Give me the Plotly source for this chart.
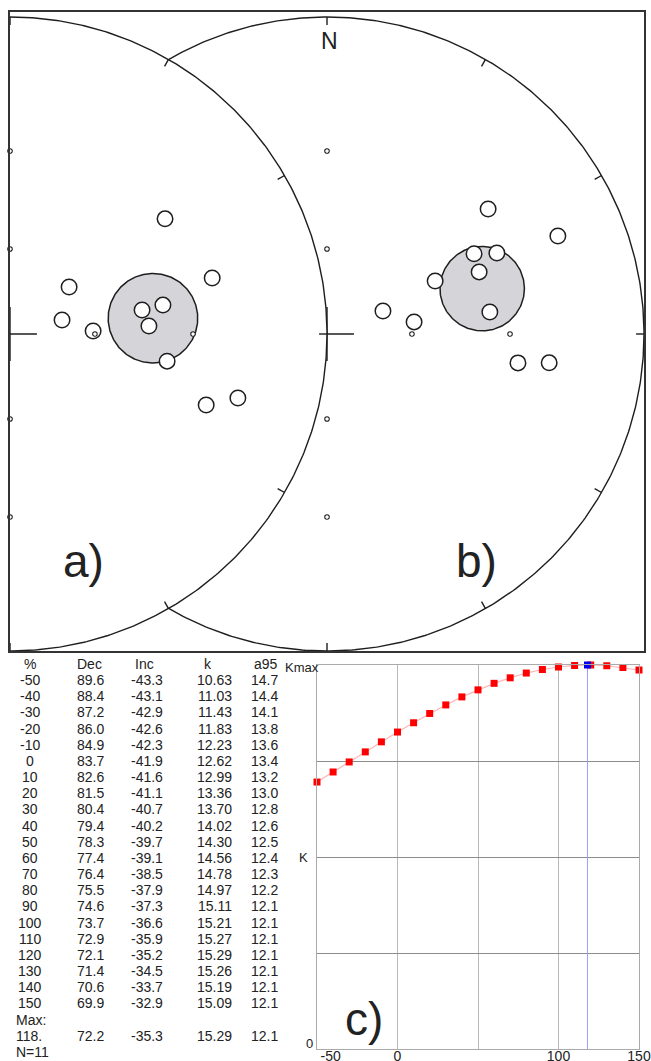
import numpy as np
import plotly.graph_objects as go

# ---------------- data ----------------
pct = [-50, -40, -30, -20, -10, 0, 10, 20, 30, 40, 50, 60, 70, 80, 90, 100, 110, 120, 130, 140, 150]
dec = [89.6, 88.4, 87.2, 86.0, 84.9, 83.7, 82.6, 81.5, 80.4, 79.4, 78.3, 77.4, 76.4, 75.5, 74.6,
       73.7, 72.9, 72.1, 71.4, 70.6, 69.9]
inc = [-43.3, -43.1, -42.9, -42.6, -42.3, -41.9, -41.6, -41.1, -40.7, -40.2, -39.7, -39.1, -38.5,
       -37.9, -37.3, -36.6, -35.9, -35.2, -34.5, -33.7, -32.9]
kval = [10.63, 11.03, 11.43, 11.83, 12.23, 12.62, 12.99, 13.36, 13.70, 14.02, 14.30, 14.56, 14.78,
        14.97, 15.11, 15.21, 15.27, 15.29, 15.26, 15.19, 15.09]
a95 = [14.7, 14.4, 14.1, 13.8, 13.6, 13.4, 13.2, 13.0, 12.8, 12.6, 12.5, 12.4, 12.3, 12.2, 12.1,
       12.1, 12.1, 12.1, 12.1, 12.1, 12.1]
max_pct, max_dec, max_inc, max_k, max_a95 = 118, 72.2, -35.3, 15.29, 12.1
n_sites = 11

# site directions (upper hemisphere, open symbols) read from the nets
a_dec = [53.4, 51.5, 74.9, 87.9, 79.7, 79.3, 86.7, 99.8, 74.5, 109.9, 105.7]
a_inc = [-27.3, -63.2, -70.7, -60.6, -44.1, -37.7, -42.6, -36.6, -23.0, -23.3, -16.5]
b_dec = [52.2, 67.0, 61.4, 64.5, 67.8, 63.9, 67.7, 82.1, 82.3, 98.6, 97.4]
b_inc = [-24.5, -13.3, -34.3, -28.6, -35.2, -48.4, -68.4, -59.0, -35.2, -27.3, -19.5]
panel_pct = [0, 100]          # step whose mean / a95 is drawn on nets a) and b)
panel_labels = ["a)", "b)", "c)"]

grat_az = [0, 90, 180, 270]
grat_inc = [30, 60]
tick_az = list(range(0, 360, 30))
x_ticks = [-50, 0, 50, 100, 150]
x_ticktext = ["\u00a0" * 7 + "-50", "0", "", "100", "150"]
header = ["%", "Dec", "Inc", "k", "a95"]

# ---------------- layout constants ----------------
W, H = 651, 1061
FONT = "Liberation Sans, Arial, sans-serif"
INK = "#1e1e1e"
R_PX, CY = 317.0, 334.0
BOX = (10, 12, 644, 651)
net_cx = [0.0, 1.0]


def proj(d, i, cx):
    d = np.radians(np.asarray(d, float))
    colat = np.radians(90.0 - np.abs(np.asarray(i, float)))
    r = np.tan(colat / 2.0)
    return cx + r * np.sin(d), r * np.cos(d)


def small_circle(d0, i0, a, n=241):
    D, I, A = np.radians(d0), np.radians(abs(i0)), np.radians(a)
    nv = np.array([np.cos(I) * np.cos(D), np.cos(I) * np.sin(D), np.sin(I)])
    u = np.cross(nv, [0.0, 0.0, 1.0]); u /= np.linalg.norm(u)
    v = np.cross(nv, u)
    t = np.linspace(0, 2 * np.pi, n)
    p = np.cos(A) * nv[:, None] + np.sin(A) * (np.cos(t) * u[:, None] + np.sin(t) * v[:, None])
    return np.degrees(np.arctan2(p[1], p[0])), np.degrees(np.arcsin(p[2]))


fig = go.Figure()


def add(tr, top=True):
    tr.update(xaxis="x" if top else "x2", yaxis="y" if top else "y2", hoverinfo="skip")
    fig.add_trace(tr)


t = np.radians(np.linspace(0, 360, 721))


def primitive(cx, fill=False):
    add(go.Scatter(x=cx + np.sin(t), y=np.cos(t), mode="lines",
                   line=dict(color=INK, width=1.4),
                   fill="toself" if fill else None, fillcolor="white"))


def ticks(cx):
    xs, ys = [], []
    for az in tick_az:
        a = np.radians(az)
        xs += [cx + np.sin(a), cx + 0.975 * np.sin(a), None]
        ys += [np.cos(a), 0.975 * np.cos(a), None]
    add(go.Scatter(x=xs, y=ys, mode="lines", line=dict(color=INK, width=1.4)))


def cross(cx, s=0.085):
    add(go.Scatter(x=[cx - s, cx + s, None, cx, cx], y=[0, 0, None, -s, s], mode="lines",
                   line=dict(color=INK, width=1.4)))


def graticule(cx, fill="white"):
    gd = [az for az in grat_az for _ in grat_inc]
    gi = [g for _ in grat_az for g in grat_inc]
    gx, gy = proj(gd, gi, cx)
    add(go.Scatter(x=gx, y=gy, mode="markers", cliponaxis=False,
                   marker=dict(symbol="circle", size=4.5, color=fill,
                               line=dict(color=INK, width=1.1))))


def conf(cx, p):
    j = pct.index(p)
    sd, si = small_circle(dec[j], inc[j], a95[j])
    sx, sy = proj(sd, si, cx)
    add(go.Scatter(x=sx, y=sy, mode="lines", fill="toself", fillcolor="#d5d5d9",
                   line=dict(color=INK, width=1.5)))


def sites(cx, d, i):
    x, y = proj(d, i, cx)
    add(go.Scatter(x=x, y=y, mode="markers",
                   marker=dict(symbol="circle", size=15.5, color="white",
                               line=dict(color=INK, width=1.5))))


# net b (partly hidden behind net a)
primitive(net_cx[1])
ticks(net_cx[1])
graticule(net_cx[1])
cross(net_cx[1])
# net a
primitive(net_cx[0], fill=True)
ticks(net_cx[0])
cross(net_cx[0])
conf(net_cx[0], panel_pct[0])
sites(net_cx[0], a_dec, a_inc)
graticule(net_cx[0])
conf(net_cx[1], panel_pct[1])
sites(net_cx[1], b_dec, b_inc)

# ---------------- panel c ----------------
add(go.Scatter(x=[max_pct, max_pct], y=[0, max_k], mode="lines",
               line=dict(color="#9d9dff", width=1)), top=False)
add(go.Scatter(x=pct, y=kval, mode="lines+markers", cliponaxis=False,
               line=dict(color="rgba(255,90,90,0.45)", width=1.2),
               marker=dict(symbol="square", size=7, color="#ff0000")), top=False)
add(go.Scatter(x=[max_pct], y=[max_k], mode="markers", cliponaxis=False,
               marker=dict(symbol="square", size=7, color="#0000ee")), top=False)

# ---------------- annotations ----------------
ann = []


def label(text, x, y, size=14, xanchor="center"):
    ann.append(dict(text=text, x=x / W, y=1 - y / H, xref="paper", yref="paper",
                    xanchor=xanchor, yanchor="middle", showarrow=False,
                    font=dict(size=size, color="#222", family=FONT)))


label("N", 329, 41, size=23)
label(panel_labels[0], 83, 561, size=46)
label(panel_labels[1], 476, 561, size=46)
label(panel_labels[2], 364, 1019, size=46)
label("Kmax", 302, 667, size=13)
label("K", 303, 857, size=13)
label("0", 309, 1043, size=13)

HDR_X = [30, 89.5, 144.5, 208, 265.5]
COL_X = [30, 91, 146.5, 215, 264.5]
ROW0, DY = 680.0, 16.17
for h, x in zip(header, HDR_X):
    label(h, x, 664)
for r in range(len(pct)):
    y = ROW0 + DY * r
    cells = [str(pct[r]), f"{dec[r]:.1f}", f"{inc[r]:.1f}", f"{kval[r]:.2f}", f"{a95[r]:.1f}"]
    for c, x in zip(cells, COL_X):
        label(c, x, y)
yM = ROW0 + DY * len(pct)
label("Max:", 14, yM, xanchor="left")
label(f"{max_pct}.", 14, yM + DY, xanchor="left")
for c, x in zip([f"{max_dec:.1f}", f"{max_inc:.1f}", f"{max_k:.2f}", f"{max_a95:.1f}"], COL_X[1:]):
    label(c, x, yM + DY)
label(f"N={n_sites}", 14, yM + 2 * DY, xanchor="left")

noax = dict(showgrid=False, zeroline=False, showticklabels=False, ticks="",
            fixedrange=True, automargin=False)
fig.update_layout(
    template="none", width=W, height=H, margin=dict(l=0, r=0, t=0, b=0),
    paper_bgcolor="white", plot_bgcolor="white", showlegend=False,
    font=dict(family=FONT, size=14, color="#222"),
    xaxis=dict(domain=[BOX[0] / W, BOX[2] / W], range=[0, (BOX[2] - BOX[0]) / R_PX],
               anchor="y", showline=True, mirror=True, linecolor="#333", linewidth=2, **noax),
    yaxis=dict(domain=[1 - BOX[3] / H, 1 - BOX[1] / H],
               range=[-(BOX[3] - CY) / R_PX, (CY - BOX[1]) / R_PX],
               anchor="x", showline=True, mirror=True, linecolor="#333", linewidth=2, **noax),
    xaxis2=dict(domain=[317 / W, 639 / W], range=[-50, 150], anchor="y2", tickmode="array",
                tickvals=x_ticks, ticktext=x_ticktext, showgrid=True, gridcolor="#b8b8b8",
                gridwidth=1, zeroline=False, showline=True, mirror=True, linecolor="#aaaaaa",
                ticks="", ticklabelstandoff=-6,
                tickfont=dict(size=14, color="#222", family=FONT),
                fixedrange=True, automargin=False),
    yaxis2=dict(domain=[1 - 1049 / H, 1 - 665 / H], range=[0, max_k], anchor="x2",
                tickmode="array",
                tickvals=[max_k * q for q in (0, 0.25, 0.5, 0.75, 1.0)], showticklabels=False,
                showgrid=True, gridcolor="#8c8c8c", gridwidth=1, zeroline=False,
                showline=True, mirror=True, linecolor="#aaaaaa", ticks="",
                fixedrange=True, automargin=False),
    annotations=ann,
)

fig.write_html("out.html")
